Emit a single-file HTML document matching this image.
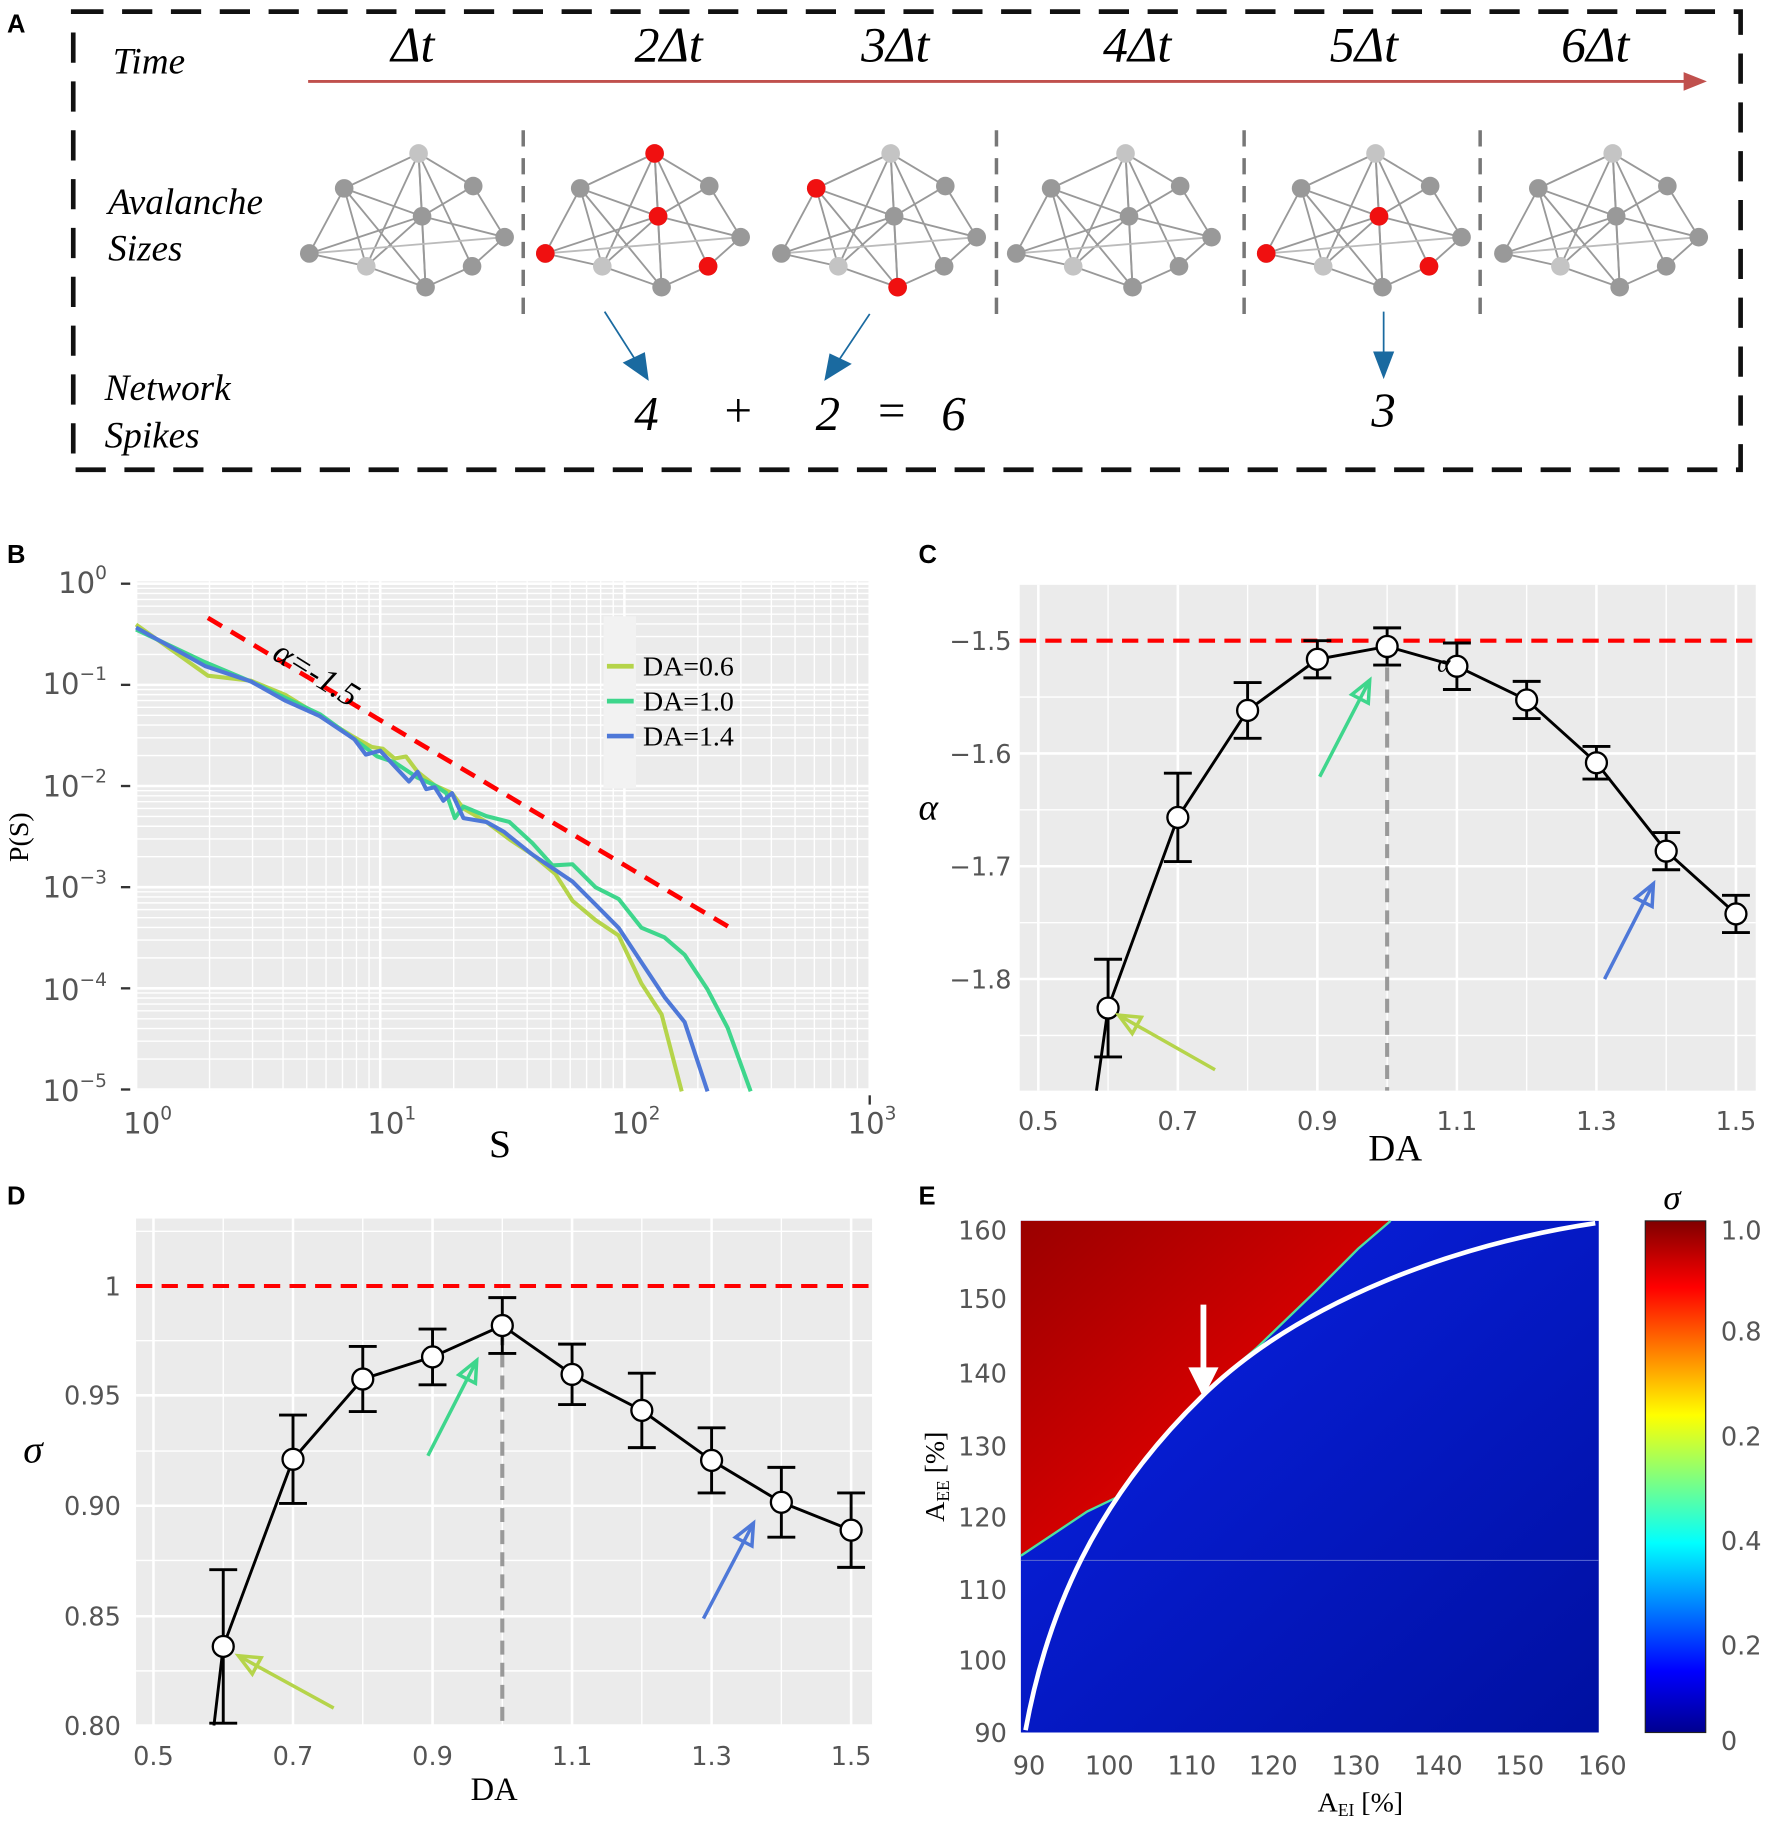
<!DOCTYPE html>
<html><head><meta charset="utf-8"><style>html,body{margin:0;padding:0;background:#fff}svg{display:block}</style></head>
<body>
<svg width="1772" height="1829" viewBox="0 0 1524 1573" preserveAspectRatio="none" xmlns="http://www.w3.org/2000/svg">
<defs>
<linearGradient id="jet" x1="0" y1="1" x2="0" y2="0">
<stop offset="0" stop-color="#00008f"/><stop offset="0.12" stop-color="#0000ff"/><stop offset="0.37" stop-color="#00ffff"/><stop offset="0.62" stop-color="#ffff00"/><stop offset="0.87" stop-color="#ff0000"/><stop offset="1" stop-color="#800000"/>
</linearGradient>
<linearGradient id="blu" x1="0" y1="0" x2="1" y2="1"><stop offset="0" stop-color="#0a22e8"/><stop offset="1" stop-color="#0010a0"/></linearGradient>
<linearGradient id="red" x1="0" y1="0" x2="1" y2="1"><stop offset="0" stop-color="#9a0000"/><stop offset="0.5" stop-color="#d00000"/><stop offset="1" stop-color="#ff1a00"/></linearGradient>
<g id="net">
<g stroke="#999" stroke-width="1.6">
<line x1="-3" y1="-54" x2="-67" y2="-24"/><line x1="-3" y1="-54" x2="0" y2="0"/><line x1="-3" y1="-54" x2="-48" y2="43"/><line x1="-3" y1="-54" x2="3" y2="61"/><line x1="-3" y1="-54" x2="44" y2="-26"/><line x1="-3" y1="-54" x2="43" y2="43"/>
<line x1="-67" y1="-24" x2="0" y2="0"/><line x1="-67" y1="-24" x2="-97" y2="32"/><line x1="-67" y1="-24" x2="-48" y2="43"/><line x1="-67" y1="-24" x2="3" y2="61"/>
<line x1="44" y1="-26" x2="0" y2="0"/><line x1="44" y1="-26" x2="71" y2="18"/>
<line x1="0" y1="0" x2="-97" y2="32"/><line x1="0" y1="0" x2="71" y2="18"/><line x1="0" y1="0" x2="3" y2="61"/><line x1="0" y1="0" x2="-48" y2="43"/>
<line x1="-97" y1="32" x2="-48" y2="43"/><line x1="-97" y1="32" x2="71" y2="18" stroke="#bbb"/>
<line x1="-48" y1="43" x2="3" y2="61"/><line x1="3" y1="61" x2="43" y2="43"/><line x1="43" y1="43" x2="71" y2="18"/>
</g>
<circle cx="-3" cy="-54" r="8" fill="#c4c4c4"/><circle cx="-67" cy="-24" r="8" fill="#999"/><circle cx="44" cy="-26" r="8" fill="#999"/><circle cx="0" cy="0" r="8" fill="#999"/><circle cx="-97" cy="32" r="8" fill="#999"/><circle cx="71" cy="18" r="8" fill="#999"/><circle cx="-48" cy="43" r="8" fill="#c4c4c4"/><circle cx="3" cy="61" r="8" fill="#999"/><circle cx="43" cy="43" r="8" fill="#999"/>
</g>
<g id="decx" stroke="#fff">
<line x1="0" y1="500" x2="0" y2="938" stroke-width="2.2"/>
<line x1="63.2" y1="500" x2="63.2" y2="938" stroke-width="1.2"/><line x1="100.2" y1="500" x2="100.2" y2="938" stroke-width="1.2"/><line x1="126.4" y1="500" x2="126.4" y2="938" stroke-width="1.2"/><line x1="146.8" y1="500" x2="146.8" y2="938" stroke-width="1.2"/><line x1="163.4" y1="500" x2="163.4" y2="938" stroke-width="1.2"/><line x1="177.5" y1="500" x2="177.5" y2="938" stroke-width="1.2"/><line x1="189.6" y1="500" x2="189.6" y2="938" stroke-width="1.2"/><line x1="200.4" y1="500" x2="200.4" y2="938" stroke-width="1.2"/>
</g>
<g id="decy" stroke="#fff">
<line x1="117" y1="0" x2="748" y2="0" stroke-width="2.2"/>
<line x1="117" y1="4" x2="748" y2="4" stroke-width="1.2"/><line x1="117" y1="8.4" x2="748" y2="8.4" stroke-width="1.2"/><line x1="117" y1="13.5" x2="748" y2="13.5" stroke-width="1.2"/><line x1="117" y1="19.3" x2="748" y2="19.3" stroke-width="1.2"/><line x1="117" y1="26.2" x2="748" y2="26.2" stroke-width="1.2"/><line x1="117" y1="34.6" x2="748" y2="34.6" stroke-width="1.2"/><line x1="117" y1="45.5" x2="748" y2="45.5" stroke-width="1.2"/><line x1="117" y1="60.8" x2="748" y2="60.8" stroke-width="1.2"/>
</g>
</defs>
<g font-family="Liberation Serif, serif">
<text x="6" y="28" font-family="Liberation Sans, sans-serif" font-weight="bold" font-size="22">A</text>
<rect x="63" y="10" width="1434" height="394" fill="none" stroke="#111" stroke-width="4" stroke-dasharray="26,16"/>
<text x="97" y="63" font-size="32" font-style="italic">Time</text>
<g font-size="43" font-style="italic" text-anchor="middle">
<text x="355" y="53">Δt</text><text x="575" y="53">2Δt</text><text x="770" y="53">3Δt</text><text x="978" y="53">4Δt</text><text x="1173" y="53">5Δt</text><text x="1372" y="53">6Δt</text>
</g>
<line x1="265" y1="70" x2="1450" y2="70" stroke="#c0504d" stroke-width="2.5"/>
<polygon points="1468,70 1448,62 1448,78" fill="#c0504d"/>
<text x="93" y="184" font-size="32" font-style="italic">Avalanche</text>
<text x="93" y="224" font-size="32" font-style="italic">Sizes</text>
<text x="90" y="344" font-size="32" font-style="italic">Network</text>
<text x="90" y="385" font-size="32" font-style="italic">Spikes</text>
<g stroke="#777" stroke-width="3" stroke-dasharray="14,10">
<line x1="450" y1="112" x2="450" y2="275"/><line x1="857" y1="112" x2="857" y2="275"/><line x1="1070" y1="112" x2="1070" y2="275"/><line x1="1273" y1="112" x2="1273" y2="275"/></g>
<use href="#net" transform="translate(363,186)"/>
<use href="#net" transform="translate(566,186)"/>
<use href="#net" transform="translate(769,186)"/>
<use href="#net" transform="translate(971,186)"/>
<use href="#net" transform="translate(1186,186)"/>
<use href="#net" transform="translate(1390,186)"/>
<g fill="#f01010">
<circle cx="563" cy="132" r="8"/><circle cx="566" cy="186" r="8"/><circle cx="469" cy="218" r="8"/><circle cx="609" cy="229" r="8"/>
<circle cx="702" cy="162" r="8"/><circle cx="772" cy="247" r="8"/>
<circle cx="1186" cy="186" r="8"/><circle cx="1089" cy="218" r="8"/><circle cx="1229" cy="229" r="8"/>
</g>
<g stroke="#1a6aa0" stroke-width="1.5" fill="#1a6aa0">
<line x1="520" y1="268" x2="548" y2="312"/><polygon points="557,326 537,312 554,304"/>
<line x1="748" y1="270" x2="720" y2="312"/><polygon points="710,326 714,305 731,313"/>
<line x1="1190" y1="268" x2="1190" y2="305"/><polygon points="1190,324 1182,303 1198,303"/></g>
<g font-size="42" font-style="italic" text-anchor="middle">
<text x="556" y="370">4</text><text x="635" y="367" font-style="normal">+</text><text x="712" y="370">2</text><text x="767" y="367" font-style="normal">=</text><text x="820" y="370">6</text><text x="1190" y="367">3</text></g>

<!-- B -->
<text x="6" y="484" font-family="Liberation Sans, sans-serif" font-weight="bold" font-size="22">B</text>
<rect x="117" y="500" width="631" height="438" fill="#ebebeb"/>
<use href="#decx" transform="translate(117,0)"/><use href="#decx" transform="translate(327,0)"/><use href="#decx" transform="translate(537,0)"/>
<line x1="748" y1="500" x2="748" y2="938" stroke="#fff" stroke-width="2.2"/>
<use href="#decy" transform="translate(0,502)"/><use href="#decy" transform="translate(0,589)"/><use href="#decy" transform="translate(0,676)"/><use href="#decy" transform="translate(0,763)"/><use href="#decy" transform="translate(0,850)"/>
<line x1="117" y1="937" x2="748" y2="937" stroke="#fff" stroke-width="2.2"/>
<g fill="none" stroke-width="3.5" stroke-linejoin="round">
<polyline stroke="#b5d44a" points="117,537.1 178.8,581.1 215.8,585.4 245.4,597.6 275.1,615.9 304.7,634.1 319.5,642.3 329.4,644 339.3,652.3 349.2,650.6 359.1,663.8 373.9,675.4 388.7,682.1 398.6,695.3 418.3,706.9 438.1,721.8 457.9,735 477.6,751.6 492.4,774.7 512.2,791.3 532,804.5 551.7,845.9 569,872.4 586.3,938.6"/>
<polyline stroke="#3ed68c" points="117,541.4 176.3,569.5 215.8,586.1 275.1,614.2 304.7,635.7 324.5,650.6 339.3,655.6 359.1,668.8 373.9,675.4 383.8,682.1 391.2,703.6 398.6,693.6 418.3,701.9 438.1,706.9 457.9,725.1 475.2,744.3 492.4,743.3 512.2,763.1 532,773.1 551.7,797.9 571.5,806.2 588.8,821.1 608.5,850.9 625.8,884 645.6,938.6"/>
<polyline stroke="#4e78d8" points="117,539.7 176.3,572.8 215.8,586.1 245.4,602.6 275.1,615.9 304.7,635.7 314.6,649 327,645.6 339.3,658.9 351.7,672.1 359.1,663.8 366.5,678.7 373.9,677.1 381.3,688.7 388.7,682.1 398.6,703.6 418.3,706.9 433.2,715.2 457.9,735 492.4,758.2 512.2,778 532,797.9 551.7,827.7 571.5,857.5 588.8,879 608.5,938.6"/>
<line x1="178.8" y1="531.4" x2="630.8" y2="799.6" stroke="#f00" stroke-width="4" stroke-dasharray="14,9"/>
</g>
<rect x="519" y="530" width="28" height="148" fill="#f2f2f2"/>
<g stroke-width="4"><line x1="522" y1="573" x2="545" y2="573" stroke="#b5d44a"/><line x1="522" y1="603" x2="545" y2="603" stroke="#3ed68c"/><line x1="522" y1="633" x2="545" y2="633" stroke="#4e78d8"/></g>
<g font-size="24"><text x="553" y="581">DA=0.6</text><text x="553" y="611">DA=1.0</text><text x="553" y="641">DA=1.4</text></g>
<text x="0" y="0" font-size="29" font-style="italic" transform="translate(233,566) rotate(32)">α=-1.5</text>
<g font-family="DejaVu Sans, sans-serif" font-size="25" fill="#555" text-anchor="end">
<text x="92" y="510">10<tspan font-size="16" dy="-12">0</tspan></text>
<text x="92" y="597">10<tspan font-size="16" dy="-12">−1</tspan></text>
<text x="92" y="685">10<tspan font-size="16" dy="-12">−2</tspan></text>
<text x="92" y="772">10<tspan font-size="16" dy="-12">−3</tspan></text>
<text x="92" y="860">10<tspan font-size="16" dy="-12">−4</tspan></text>
<text x="92" y="947">10<tspan font-size="16" dy="-12">−5</tspan></text>
</g>
<g stroke="#333" stroke-width="2"><line x1="104" y1="502" x2="112" y2="502"/><line x1="104" y1="589" x2="112" y2="589"/><line x1="104" y1="676" x2="112" y2="676"/><line x1="104" y1="763" x2="112" y2="763"/><line x1="104" y1="850" x2="112" y2="850"/><line x1="104" y1="937" x2="112" y2="937"/>
<line x1="748" y1="942" x2="748" y2="950"/></g>
<g font-family="DejaVu Sans, sans-serif" font-size="25" fill="#555" text-anchor="middle">
<text x="127" y="975">10<tspan font-size="16" dy="-12">0</tspan></text>
<text x="337" y="975">10<tspan font-size="16" dy="-12">1</tspan></text>
<text x="547" y="975">10<tspan font-size="16" dy="-12">2</tspan></text>
<text x="750" y="975">10<tspan font-size="16" dy="-12">3</tspan></text>
</g>
<text x="430" y="995" font-size="34" text-anchor="middle">S</text>
<text x="0" y="0" font-size="24" text-anchor="middle" transform="translate(24,720) rotate(-90)">P(S)</text>

<!-- C -->
<text x="790" y="484" font-family="Liberation Sans, sans-serif" font-weight="bold" font-size="22">C</text>
<rect x="877" y="503" width="633" height="435" fill="#ebebeb"/>
<g stroke="#fff">
<g stroke-width="2.2"><line x1="893" y1="503" x2="893" y2="938"/><line x1="1013" y1="503" x2="1013" y2="938"/><line x1="1133" y1="503" x2="1133" y2="938"/><line x1="1253" y1="503" x2="1253" y2="938"/><line x1="1373" y1="503" x2="1373" y2="938"/><line x1="1493" y1="503" x2="1493" y2="938"/>
<line x1="877" y1="648" x2="1510" y2="648"/><line x1="877" y1="745" x2="1510" y2="745"/><line x1="877" y1="842" x2="1510" y2="842"/></g>
<g stroke-width="1.2"><line x1="953" y1="503" x2="953" y2="938"/><line x1="1073" y1="503" x2="1073" y2="938"/><line x1="1193" y1="503" x2="1193" y2="938"/><line x1="1313" y1="503" x2="1313" y2="938"/><line x1="1433" y1="503" x2="1433" y2="938"/>
<line x1="877" y1="599.5" x2="1510" y2="599.5"/><line x1="877" y1="696.5" x2="1510" y2="696.5"/><line x1="877" y1="793.5" x2="1510" y2="793.5"/><line x1="877" y1="890.5" x2="1510" y2="890.5"/></g>
</g>
<line x1="877" y1="551" x2="1510" y2="551" stroke="#f00" stroke-width="3.5" stroke-dasharray="14,8"/>
<line x1="1193" y1="555" x2="1193" y2="938" stroke="#999" stroke-width="3.5" stroke-dasharray="12,7"/>
<polyline points="943,938 953,867 1013,703 1073,611 1133,567 1193,556 1253,573 1313,602 1373,656 1433,732 1493,786" fill="none" stroke="#000" stroke-width="2.5"/>
<path fill="none" stroke="#000" stroke-width="2.5" d="M953,825V909M941,825H965M941,909H965 M1013,665V741M1001,665H1025M1001,741H1025 M1073,587V635M1061,587H1085M1061,635H1085 M1133,551V583M1121,551H1145M1121,583H1145 M1193,540V572M1181,540H1205M1181,572H1205 M1253,553V593M1241,553H1265M1241,593H1265 M1313,586V618M1301,586H1325M1301,618H1325 M1373,642V670M1361,642H1385M1361,670H1385 M1433,716V748M1421,716H1445M1421,748H1445 M1493,770V802M1481,770H1505M1481,802H1505"/>
<g fill="#fff" stroke="#000" stroke-width="2"><circle cx="953" cy="867" r="9"/><circle cx="1013" cy="703" r="9"/><circle cx="1073" cy="611" r="9"/><circle cx="1133" cy="567" r="9"/><circle cx="1193" cy="556" r="9"/><circle cx="1253" cy="573" r="9"/><circle cx="1313" cy="602" r="9"/><circle cx="1373" cy="656" r="9"/><circle cx="1433" cy="732" r="9"/><circle cx="1493" cy="786" r="9"/></g>
<g fill="none" stroke-width="3">
<line x1="1135" y1="668" x2="1178" y2="585" stroke="#3ed68c"/><polygon points="1178,585 1176.8,604.7 1162.6,597.3" stroke="#3ed68c"/>
<line x1="1045" y1="920" x2="962" y2="873" stroke="#b5d44a"/><polygon points="962,873 981.6,874.9 973.8,888.9" stroke="#b5d44a"/>
<line x1="1380" y1="842" x2="1422" y2="760" stroke="#4e78d8"/><polygon points="1422,760 1420.9,779.6 1406.7,772.4" stroke="#4e78d8"/>
</g>
<text x="1236" y="578" font-size="22" font-style="italic">α</text>
<g font-family="DejaVu Sans, sans-serif" font-size="22" fill="#555" text-anchor="end">
<text x="870" y="559">−1.5</text><text x="870" y="656">−1.6</text><text x="870" y="753">−1.7</text><text x="870" y="850">−1.8</text></g>
<g font-family="DejaVu Sans, sans-serif" font-size="22" fill="#555" text-anchor="middle">
<text x="893" y="972">0.5</text><text x="1013" y="972">0.7</text><text x="1133" y="972">0.9</text><text x="1253" y="972">1.1</text><text x="1373" y="972">1.3</text><text x="1493" y="972">1.5</text></g>
<text x="1200" y="998" font-size="32" text-anchor="middle">DA</text>
<text x="790" y="705" font-size="32" font-style="italic">α</text>

<!-- D -->
<text x="6" y="1036" font-family="Liberation Sans, sans-serif" font-weight="bold" font-size="22">D</text>
<rect x="117" y="1048" width="633" height="436" fill="#ebebeb"/>
<g stroke="#fff">
<g stroke-width="2.2"><line x1="132" y1="1048" x2="132" y2="1484"/><line x1="252" y1="1048" x2="252" y2="1484"/><line x1="372" y1="1048" x2="372" y2="1484"/><line x1="492" y1="1048" x2="492" y2="1484"/><line x1="612" y1="1048" x2="612" y2="1484"/><line x1="732" y1="1048" x2="732" y2="1484"/>
<line x1="117" y1="1200" x2="750" y2="1200"/><line x1="117" y1="1295" x2="750" y2="1295"/><line x1="117" y1="1390" x2="750" y2="1390"/><line x1="117" y1="1484" x2="750" y2="1484"/></g>
<g stroke-width="1.2"><line x1="192" y1="1048" x2="192" y2="1484"/><line x1="312" y1="1048" x2="312" y2="1484"/><line x1="432" y1="1048" x2="432" y2="1484"/><line x1="552" y1="1048" x2="552" y2="1484"/><line x1="672" y1="1048" x2="672" y2="1484"/>
<line x1="117" y1="1059" x2="750" y2="1059"/><line x1="117" y1="1153" x2="750" y2="1153"/><line x1="117" y1="1248" x2="750" y2="1248"/><line x1="117" y1="1342" x2="750" y2="1342"/><line x1="117" y1="1437" x2="750" y2="1437"/></g>
</g>
<line x1="117" y1="1106" x2="750" y2="1106" stroke="#f00" stroke-width="3.5" stroke-dasharray="14,8"/>
<line x1="432" y1="1145" x2="432" y2="1484" stroke="#999" stroke-width="3.5" stroke-dasharray="12,7"/>
<polyline points="184,1484 192,1416 252,1255 312,1186 372,1167 432,1140 492,1182 552,1213 612,1256 672,1292 732,1316" fill="none" stroke="#000" stroke-width="2.5"/>
<path fill="none" stroke="#000" stroke-width="2.5" d="M192,1350V1482M180,1350H204M180,1482H204 M252,1217V1293M240,1217H264M240,1293H264 M312,1158V1214M300,1158H324M300,1214H324 M372,1143V1191M360,1143H384M360,1191H384 M432,1116V1164M420,1116H444M420,1164H444 M492,1156V1208M480,1156H504M480,1208H504 M552,1181V1245M540,1181H564M540,1245H564 M612,1228V1284M600,1228H624M600,1284H624 M672,1262V1322M660,1262H684M660,1322H684 M732,1284V1348M720,1284H744M720,1348H744"/>
<g fill="#fff" stroke="#000" stroke-width="2"><circle cx="192" cy="1416" r="9"/><circle cx="252" cy="1255" r="9"/><circle cx="312" cy="1186" r="9"/><circle cx="372" cy="1167" r="9"/><circle cx="432" cy="1140" r="9"/><circle cx="492" cy="1182" r="9"/><circle cx="552" cy="1213" r="9"/><circle cx="612" cy="1256" r="9"/><circle cx="672" cy="1292" r="9"/><circle cx="732" cy="1316" r="9"/></g>
<g fill="none" stroke-width="3">
<line x1="368" y1="1252" x2="410" y2="1170" stroke="#3ed68c"/><polygon points="410,1170 408.9,1189.6 394.7,1182.4" stroke="#3ed68c"/>
<line x1="287" y1="1469" x2="205" y2="1424" stroke="#b5d44a"/><polygon points="205,1424 224.6,1425.7 217,1439.7" stroke="#b5d44a"/>
<line x1="605" y1="1392" x2="648" y2="1310" stroke="#4e78d8"/><polygon points="648,1310 646.7,1329.6 632.5,1322.2" stroke="#4e78d8"/>
</g>
<g font-family="DejaVu Sans, sans-serif" font-size="22" fill="#555" text-anchor="end">
<text x="104" y="1114">1</text><text x="104" y="1208">0.95</text><text x="104" y="1303">0.90</text><text x="104" y="1398">0.85</text><text x="104" y="1492">0.80</text></g>
<g font-family="DejaVu Sans, sans-serif" font-size="22" fill="#555" text-anchor="middle">
<text x="132" y="1518">0.5</text><text x="252" y="1518">0.7</text><text x="372" y="1518">0.9</text><text x="492" y="1518">1.1</text><text x="612" y="1518">1.3</text><text x="732" y="1518">1.5</text></g>
<text x="425" y="1548" font-size="28" text-anchor="middle">DA</text>
<text x="20" y="1258" font-size="34" font-style="italic">σ</text>

<!-- E -->
<text x="790" y="1036" font-family="Liberation Sans, sans-serif" font-weight="bold" font-size="22">E</text>
<rect x="878" y="1050" width="497" height="440" fill="url(#blu)"/>
<polygon points="878,1050 1196,1050 1168,1074 1132,1110 1080,1160 1040,1194 1010,1225 985,1255 960,1288 935,1300 878,1338" fill="url(#red)"/>
<polyline points="1196,1050 1168,1074 1132,1110 1080,1160 1040,1194 1010,1225 985,1255 960,1288 935,1300 878,1338" fill="none" stroke="#4fe0a0" stroke-width="2"/>
<line x1="878" y1="1342" x2="1375" y2="1342" stroke="#5060d0" stroke-width="1"/>
<path d="M882,1488 C900,1390 940,1290 1040,1195 C1120,1120 1250,1070 1372,1052" fill="none" stroke="#fff" stroke-width="4"/>
<line x1="1035" y1="1122" x2="1035" y2="1178" stroke="#fff" stroke-width="5"/>
<polygon points="1022,1176 1048,1176 1035,1202" fill="#fff"/>
<rect x="1415" y="1050" width="52" height="440" fill="url(#jet)" stroke="#222" stroke-width="1"/>
<text x="1438" y="1040" font-size="30" font-style="italic" text-anchor="middle">σ</text>
<g font-family="DejaVu Sans, sans-serif" font-size="22" fill="#555">
<text x="1480" y="1066">1.0</text><text x="1480" y="1153">0.8</text><text x="1480" y="1243">0.2</text><text x="1480" y="1333">0.4</text><text x="1480" y="1423">0.2</text><text x="1480" y="1505">0</text></g>
<g font-family="DejaVu Sans, sans-serif" font-size="22" fill="#555" text-anchor="end">
<text x="866" y="1066">160</text><text x="866" y="1125">150</text><text x="866" y="1189">140</text><text x="866" y="1252">130</text><text x="866" y="1313">120</text><text x="866" y="1375">110</text><text x="866" y="1436">100</text><text x="866" y="1498">90</text></g>
<g font-family="DejaVu Sans, sans-serif" font-size="22" fill="#555" text-anchor="middle">
<text x="885" y="1526">90</text><text x="954" y="1526">100</text><text x="1025" y="1526">110</text><text x="1095" y="1526">120</text><text x="1166" y="1526">130</text><text x="1237" y="1526">140</text><text x="1307" y="1526">150</text><text x="1378" y="1526">160</text></g>
<text x="1170" y="1558" font-size="24" text-anchor="middle">A<tspan font-size="15" dy="4">EI</tspan><tspan dy="-4"> [%]</tspan></text>
<text x="0" y="0" font-size="24" text-anchor="middle" transform="translate(812,1270) rotate(-90)">A<tspan font-size="15" dy="4">EE</tspan><tspan dy="-4"> [%]</tspan></text>
</g>
</svg>
</body></html>
